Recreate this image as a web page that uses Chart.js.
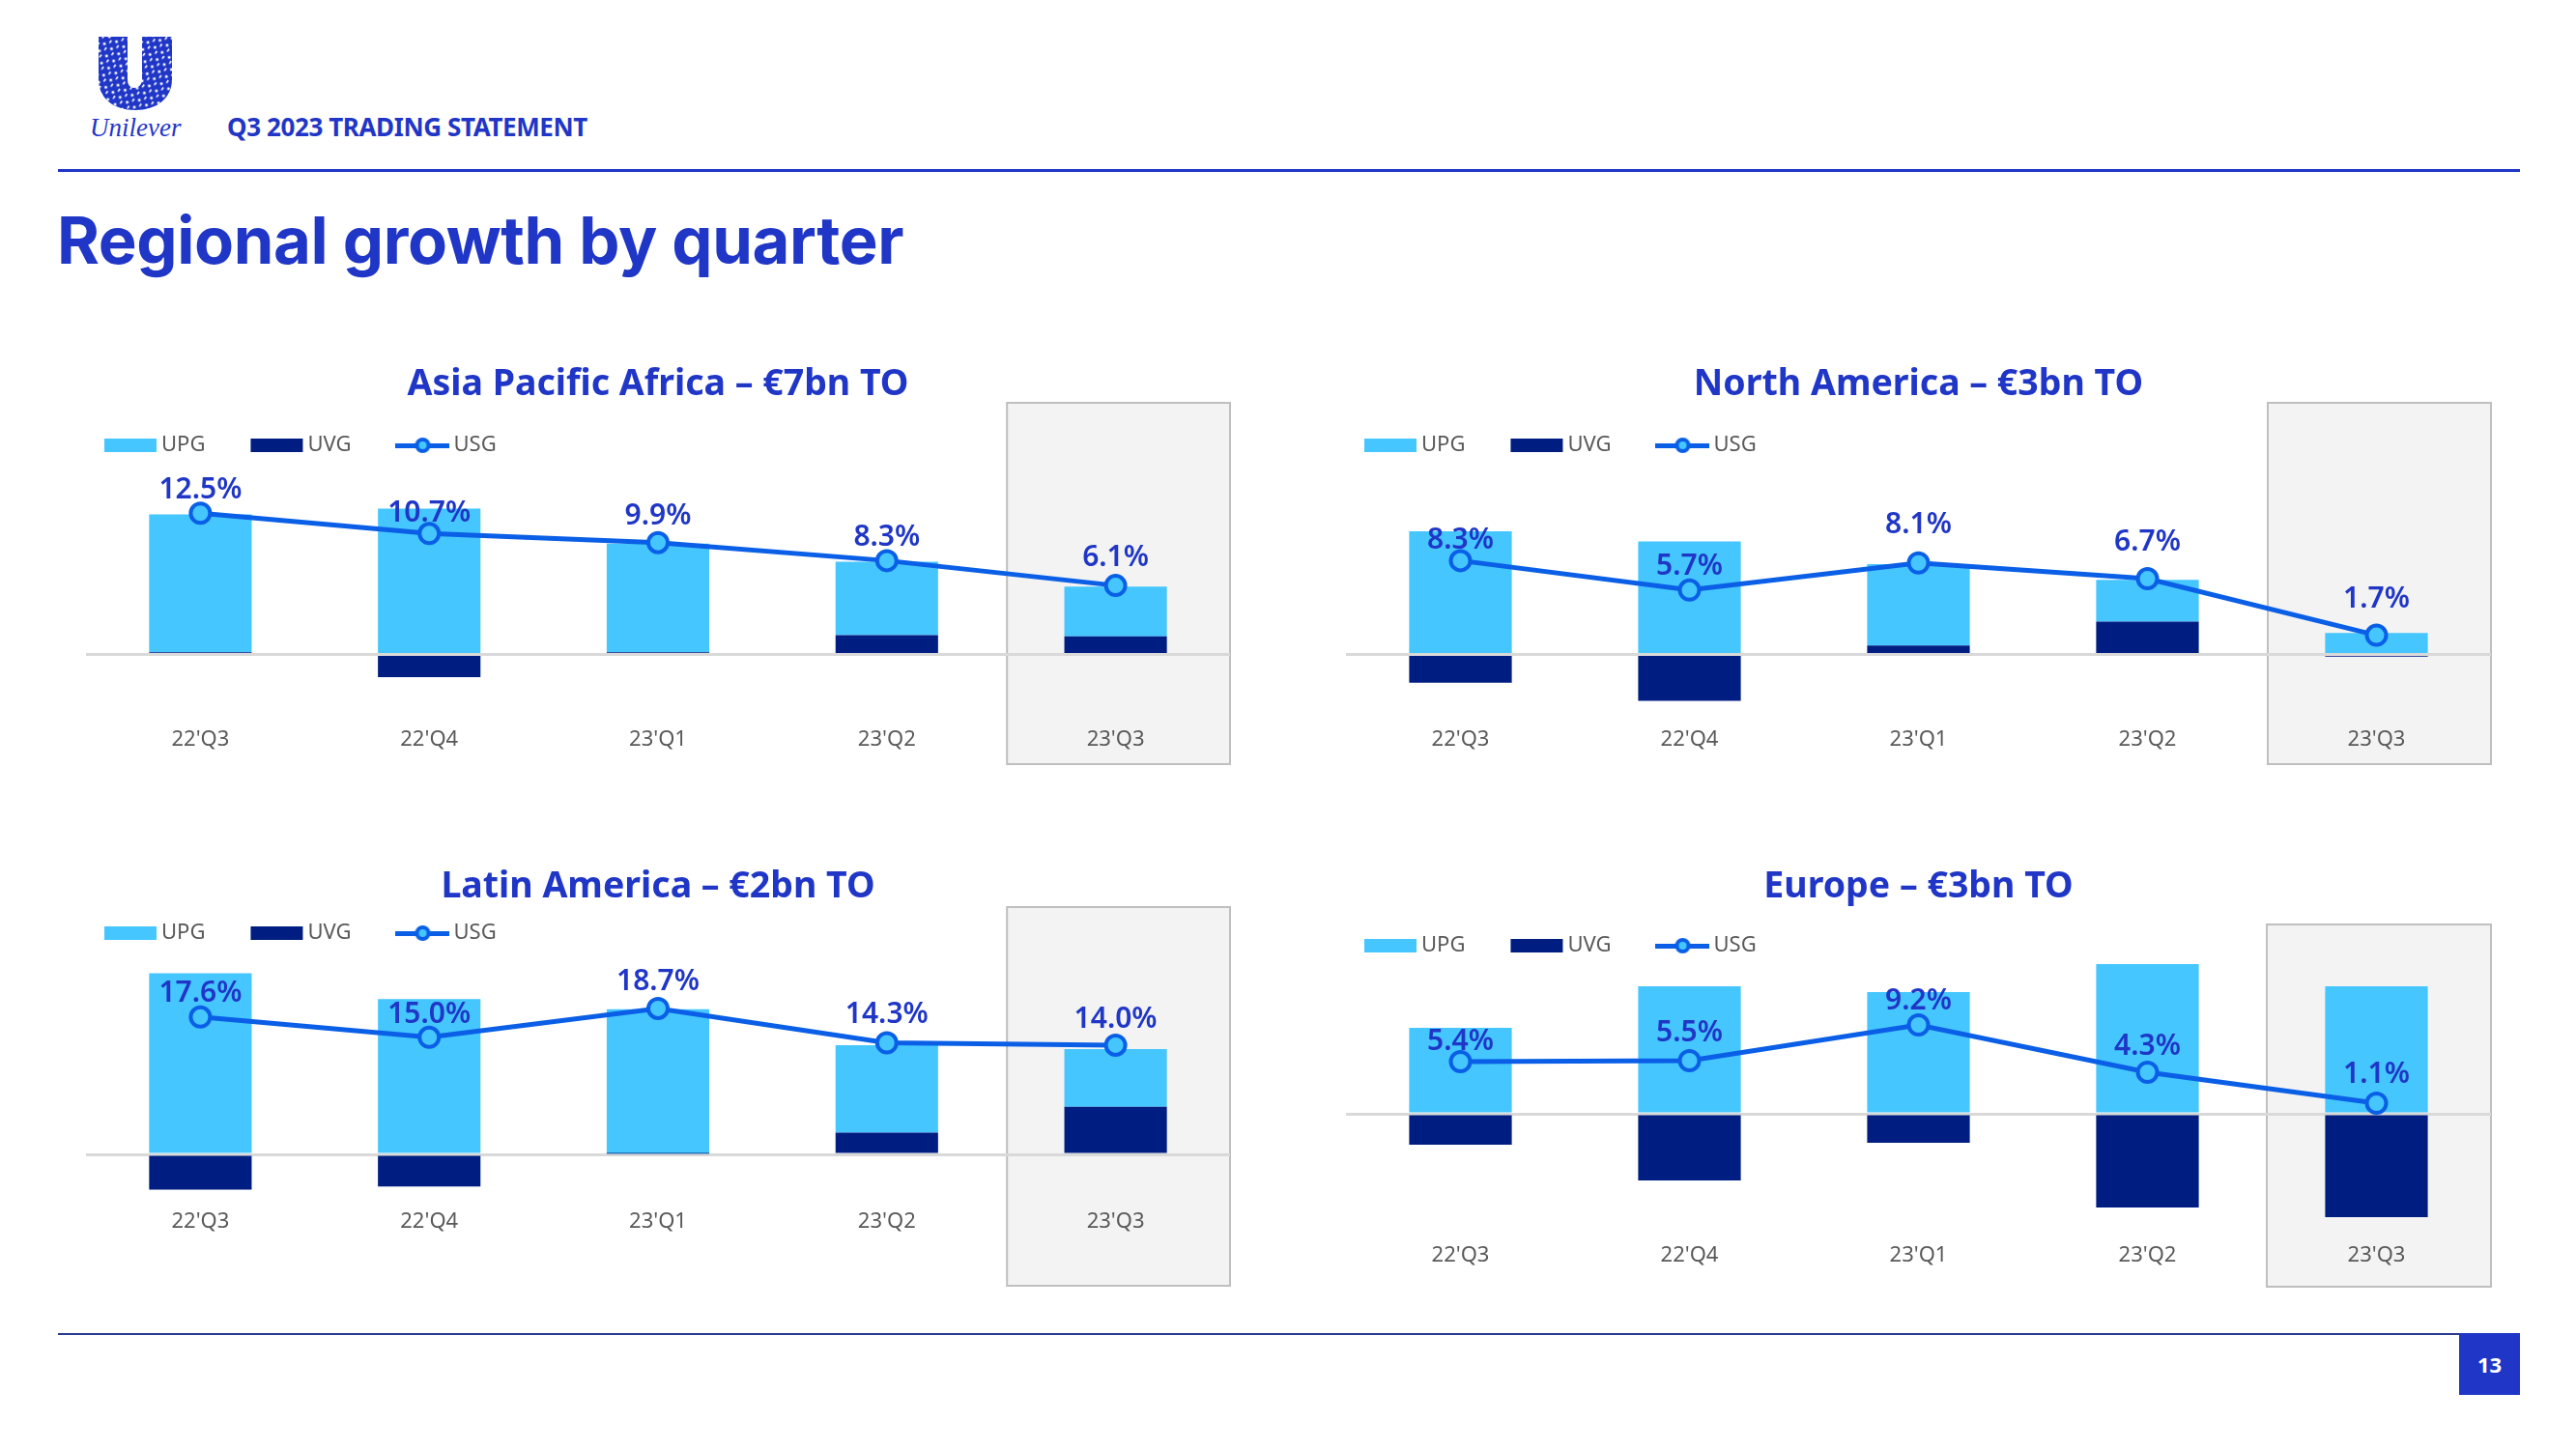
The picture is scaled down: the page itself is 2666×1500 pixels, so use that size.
<!DOCTYPE html>
<html>
<head>
<meta charset="utf-8">
<title>Regional growth by quarter</title>
<script src="https://cdn.jsdelivr.net/npm/chart.js@4/dist/chart.umd.min.js"></script>
<style>
  html, body { margin: 0; background: #fff; }
  #slide { position: relative; width: 2666px; height: 1500px; overflow: hidden; font-family: "Noto Sans", sans-serif; color: #1f36c7; }
  #slide > * { position: absolute; }
  canvas { display: block; }
  .rule { left: 60px; width: 2548px; }
  #rep { left: 235px; top: 113px; font-size: 26px; font-weight: 700; letter-spacing: -0.4px; white-space: nowrap; }
  #heading { left: 59px; top: 209px; margin: 0; font: 700 67px/1.2 Inter, sans-serif; letter-spacing: -0.4px; white-space: nowrap; }
  #brand { left: 93px; top: 117px; font: italic 27px "Liberation Serif", serif; }
  #page { left: 2545px; top: 1380px; width: 63px; height: 64px; line-height: 64px; text-align: center; background: #1f36c7; color: #fff; font-size: 22px; font-weight: 700; }
</style>
</head>
<body>
<div id="slide">
  <svg id="logo" style="left:100px;top:36px" width="80" height="80" viewBox="0 0 80 80">
    <defs>
      <pattern id="flecks" width="9" height="9" patternUnits="userSpaceOnUse" patternTransform="rotate(35)">
        <rect width="9" height="9" fill="#1f36c7"/>
        <circle cx="3" cy="3" r="1.5" fill="#fff"/>
        <rect x="6" y="5" width="1.6" height="3.4" fill="#fff"/>
      </pattern>
    </defs>
    <path d="M2 2H32V46C32 52 35 55 39 55C43 55 47 52 47 46V2H78V46C78 66 62 78 40 78C18 78 2 66 2 46Z" fill="url(#flecks)"/>
  </svg>
  <div id="brand">Unilever</div>
  <div id="rep">Q3 2023 TRADING STATEMENT</div>
  <div class="rule" style="top:175px;height:3px;background:#1f36c7"></div>
  <h1 id="heading">Regional growth by quarter</h1>
  <div class="rule" style="top:1380px;height:2px;background:#2a3a8f"></div>
  <div id="page">13</div>
</div>
<script>
const categories = ["22'Q3", "22'Q4", "23'Q1", "23'Q2", "23'Q3"];

const apaUpg = [12.2, 12.9, 9.6, 6.5, 4.4];
const apaUvg = [0.2, -2.0, 0.2, 1.7, 1.6];
const apaUsg = [12.5, 10.7, 9.9, 8.3, 6.1];

const naUpg = [10.9, 10.0, 7.2, 3.7, 1.9];
const naUvg = [-2.5, -4.1, 0.8, 2.9, -0.2];
const naUsg = [8.3, 5.7, 8.1, 6.7, 1.7];

const latamUpg = [23.2, 19.9, 18.5, 11.2, 7.4];
const latamUvg = [-4.5, -4.1, 0.1, 2.8, 6.1];
const latamUsg = [17.6, 15.0, 18.7, 14.3, 14.0];

const europeUpg = [8.9, 13.2, 12.6, 15.5, 13.2];
const europeUvg = [-3.2, -6.9, -3.0, -9.7, -10.7];
const europeUsg = [5.4, 5.5, 9.2, 4.3, 1.1];

const BLUE = '#1f36c7', LIGHT = '#45c6ff', NAVY = '#001e82', LINE = '#0a5fe6';
const FONT = '"Noto Sans", sans-serif';

// legend swatches, handed to Chart.js as point styles
function swatch(draw) {
  const c = document.createElement('canvas');
  c.width = 56;
  c.height = 20;
  draw(c.getContext('2d'));
  return c;
}
const upgSwatch = swatch(g => { g.fillStyle = LIGHT; g.fillRect(1, 3, 54, 14); });
const uvgSwatch = swatch(g => { g.fillStyle = NAVY; g.fillRect(1, 3, 54, 14); });
const usgSwatch = swatch(g => {
  g.fillStyle = LINE;
  g.fillRect(0, 8, 56, 5);
  g.beginPath();
  g.arc(28, 10, 6, 0, Math.PI * 2);
  g.fillStyle = LIGHT;
  g.fill();
  g.lineWidth = 4;
  g.strokeStyle = LINE;
  g.stroke();
});

// grey box behind the latest quarter
const highlightBox = {
  id: 'highlightBox',
  beforeDraw(chart, args, opts) {
    const x = chart.scales.x;
    const half = (x.getPixelForValue(1) - x.getPixelForValue(0)) / 2;
    const cx = x.getPixelForValue(categories.length - 1);
    const left = cx - half + opts.inset;
    const g = chart.ctx;
    g.save();
    g.fillStyle = '#f3f3f3';
    g.strokeStyle = '#bfbfbf';
    g.lineWidth = 2;
    g.fillRect(left, opts.top, cx + half - left, opts.bottom - opts.top);
    g.strokeRect(left, opts.top, cx + half - left, opts.bottom - opts.top);
    g.restore();
  }
};

// legend sits on top of the plot, in one row, at a spot of its own
const legendSpot = {
  id: 'legendSpot',
  beforeLayout(chart) {
    chart.legend.isHorizontal = () => true;
  },
  afterLayout(chart, args, opts) {
    const lg = chart.legend;
    lg.left = opts.x - lg.options.labels.padding;
    lg.top = opts.y - 11 - lg.options.labels.padding;
  }
};

// the USG percentages above each point
const usgLabels = {
  id: 'usgLabels',
  afterDatasetsDraw(chart, args, opts) {
    const ds = chart.data.datasets[2];
    const pts = chart.getDatasetMeta(2).data;
    const g = chart.ctx;
    g.save();
    g.font = '600 30px ' + FONT;
    g.fillStyle = BLUE;
    g.textAlign = 'center';
    g.textBaseline = 'middle';
    pts.forEach((p, i) => {
      g.fillText(ds.data[i].toFixed(1) + '%', p.x, p.y - opts.lift[i] + 3);
    });
    g.restore();
  }
};

function drawPanel(p) {
  const c = document.createElement('canvas');
  c.width = p.width;
  c.height = p.height;
  c.style.left = p.left + 'px';
  c.style.top = p.top + 'px';
  document.getElementById('slide').appendChild(c);

  new Chart(c.getContext('2d'), {
    type: 'bar',
    plugins: [highlightBox, legendSpot, usgLabels],
    data: {
      labels: categories,
      datasets: [
        { label: 'UPG', data: p.upg, backgroundColor: LIGHT, order: 2, stack: 'g' },
        { label: 'UVG', data: p.uvg, backgroundColor: NAVY, order: 1, stack: 'g' },
        {
          label: 'USG', type: 'line', data: p.usg, order: 0,
          borderColor: LINE, borderWidth: 5, tension: 0,
          pointRadius: 10, pointBorderWidth: 4, pointBackgroundColor: LIGHT, pointBorderColor: LINE
        }
      ]
    },
    options: {
      responsive: false,
      animation: false,
      layout: { padding: { left: 20, right: 20, top: 0, bottom: 0 } },
      barPercentage: 0.9,
      categoryPercentage: 0.498,
      scales: {
        x: {
          stacked: true,
          grid: { display: false },
          border: { display: false },
          afterFit: s => { s.height = p.axisHeight; },
          ticks: { color: '#595959', font: { family: FONT, size: 22 }, padding: 0, maxRotation: 0 }
        },
        y: {
          stacked: true,
          display: true,
          min: p.yMin,
          max: p.yMax,
          afterFit: s => { s.width = 0; },
          border: { display: false },
          ticks: { display: false, stepSize: 100 },
          grid: { drawTicks: false, lineWidth: 3, color: ctx => (ctx.tick.value === 0 ? '#d9d9d9' : 'rgba(0,0,0,0)') }
        }
      },
      plugins: {
        title: {
          display: true,
          text: p.title,
          color: BLUE,
          font: { family: FONT, size: 37.5, weight: '700', lineHeight: 48 / 37.5 },
          padding: { top: 4, bottom: 3 }
        },
        legend: {
          position: 'chartArea',
          align: 'start',
          labels: {
            usePointStyle: true,
            pointStyleWidth: 42,
            padding: 53,
            color: '#595959',
            font: { family: FONT, size: 22 },
            generateLabels: chart => chart.data.datasets.map((d, i) => ({
              text: d.label,
              datasetIndex: i,
              fontColor: '#595959',
              lineWidth: 0,
              pointStyle: [upgSwatch, uvgSwatch, usgSwatch][i]
            }))
          }
        },
        tooltip: { enabled: false },
        highlightBox: { top: p.boxTop, bottom: p.boxBottom, inset: p.boxInset },
        legendSpot: { x: 45, y: p.legendY },
        usgLabels: { lift: p.lift }
      }
    }
  });
}

drawPanel({
  title: 'Asia Pacific Africa – €7bn TO', upg: apaUpg, uvg: apaUvg, usg: apaUsg,
  left: 69, top: 370, width: 1224, height: 425, axisHeight: 50,
  yMin: -5.77, yMax: 21.58, boxTop: 47, boxBottom: 421, boxInset: 6, legendY: 91,
  lift: [27, 24, 30, 27, 32]
});
drawPanel({
  title: 'North America – €3bn TO', upg: naUpg, uvg: naUvg, usg: naUsg,
  left: 1373, top: 370, width: 1225, height: 425, axisHeight: 50,
  yMin: -5.77, yMax: 21.58, boxTop: 47, boxBottom: 421, boxInset: 6, legendY: 91,
  lift: [24, 27, 42, 41, 40]
});
drawPanel({
  title: 'Latin America – €2bn TO', upg: latamUpg, uvg: latamUvg, usg: latamUsg,
  left: 69, top: 890, width: 1224, height: 446, axisHeight: 92,
  yMin: -6.06, yMax: 30.94, boxTop: 49, boxBottom: 441, boxInset: 6, legendY: 76,
  lift: [27, 26, 30, 32, 29]
});
drawPanel({
  title: 'Europe – €3bn TO', upg: europeUpg, uvg: europeUvg, usg: europeUsg,
  left: 1373, top: 890, width: 1225, height: 446, axisHeight: 57,
  yMin: -12.6, yMax: 20.8, boxTop: 67, boxBottom: 442, boxInset: 5, legendY: 89,
  lift: [24, 32, 28, 30, 33]
});
</script>
</body>
</html>
